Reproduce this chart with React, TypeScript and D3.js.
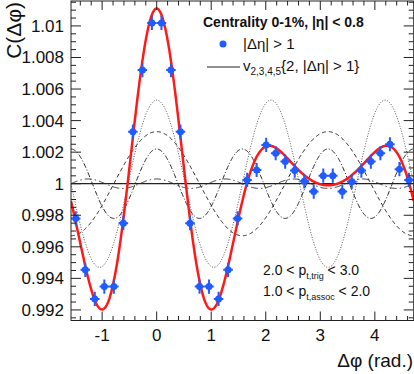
import { useEffect, useRef } from 'react';
import * as d3 from 'd3';

// 36 bins over [-pi/2, 3pi/2]
const nBins = 36;
const corrValues = [
  0.9978, 0.99454, 0.9927, 0.99348, 0.99348, 0.9975, 1.0033, 1.0072, 1.01019,
  1.01019, 1.0072, 1.0033, 0.9975, 0.99348, 0.99348, 0.9927, 0.99454, 0.9978,
  1.00024, 1.00087, 1.00246, 1.00193, 1.0014, 1.00083, 1.00015, 0.9995, 1.00051,
  1.00051, 0.9995, 1.00013, 1.00083, 1.0014, 1.00193, 1.0025, 1.00092, 1.00024,
];
const corrErr = 0.00045;

// Fourier terms 1 + 2 v_n^2 cos(n dphi)
const harmonicOrders = [2, 3, 4, 5];
const harmonicAmps = [0.0033, 0.0053, 0.0022, 0.0003];

const yTicks = [0.992, 0.994, 0.996, 0.998, 1, 1.002, 1.004, 1.006, 1.008, 1.01];
const yTickLabels = ['0.992', '0.994', '0.996', '0.998', '1', '1.002', '1.004', '1.006', '1.008', '1.01'];
const xTicks = [-1, 0, 1, 2, 3, 4];

export default function App() {
  const svgRef = useRef<SVGSVGElement>(null);

  useEffect(() => {
    if (!svgRef.current) return;
    const svg = d3.select(svgRef.current);
    svg.selectAll('*').remove();

    const left = 71;
    const right = 413.7;
    const top = 1;
    const bottom = 320.5;
    const font = "'Liberation Sans', Arial, Helvetica, sans-serif";

    const x = d3.scaleLinear().domain([-Math.PI / 2, (3 * Math.PI) / 2]).range([left, right]);
    const y = d3.scaleLinear().domain([0.99133, 1.01158]).range([bottom, top]);

    svg.append('defs').append('clipPath').attr('id', 'plotclip')
      .append('rect')
      .attr('x', left).attr('y', top)
      .attr('width', right - left).attr('height', bottom - top);

    const plot = svg.append('g').attr('clip-path', 'url(#plotclip)');

    // baseline at 1
    plot.append('line')
      .attr('x1', left).attr('x2', right)
      .attr('y1', y(1)).attr('y2', y(1))
      .attr('stroke', '#222').attr('stroke-width', 1.2);

    const samples = d3.range(0, 601).map((i) => -Math.PI / 2 + (i / 600) * 2 * Math.PI);
    const dashes = ['4,3', '1,1.6', '5,2,1,2', '7,3,1.5,3'];
    const colors = ['#222', '#555', '#222', '#333'];

    harmonicOrders.forEach((n, i) => {
      const line = d3.line<number>()
        .x((p) => x(p))
        .y((p) => y(1 + harmonicAmps[i] * Math.cos(n * p)));
      plot.append('path')
        .datum(samples)
        .attr('d', line)
        .attr('fill', 'none')
        .attr('stroke', colors[i])
        .attr('stroke-width', 1)
        .attr('stroke-dasharray', dashes[i]);
    });

    // sum of harmonics
    const sumLine = d3.line<number>()
      .x((p) => x(p))
      .y((p) => y(1 + d3.sum(harmonicOrders, (n, i) => harmonicAmps[i] * Math.cos(n * p))));
    plot.append('path')
      .datum(samples)
      .attr('d', sumLine)
      .attr('fill', 'none')
      .attr('stroke', '#ff1a1a')
      .attr('stroke-width', 2.5);

    // data points
    const binW = (2 * Math.PI) / nBins;
    const pts = corrValues.map((v, k) => ({ c: -Math.PI / 2 + (k + 0.5) * binW, v }));
    const blue = '#1f5bff';
    const pg = plot.append('g');
    pts.forEach((d) => {
      pg.append('line')
        .attr('x1', x(d.c - binW / 2)).attr('x2', x(d.c + binW / 2))
        .attr('y1', y(d.v)).attr('y2', y(d.v))
        .attr('stroke', blue).attr('stroke-width', 2);
      pg.append('line')
        .attr('x1', x(d.c)).attr('x2', x(d.c))
        .attr('y1', y(d.v - corrErr)).attr('y2', y(d.v + corrErr))
        .attr('stroke', blue).attr('stroke-width', 2);
      pg.append('circle')
        .attr('cx', x(d.c)).attr('cy', y(d.v)).attr('r', 3.5)
        .attr('fill', blue);
    });

    // frame
    svg.append('rect')
      .attr('x', left).attr('y', top)
      .attr('width', right - left).attr('height', bottom - top)
      .attr('fill', 'none').attr('stroke', '#222').attr('stroke-width', 1);

    const ax = svg.append('g').attr('stroke', '#222').attr('stroke-width', 1);
    // x ticks (major every 1, minor every 0.2)
    const xMinor = d3.range(-1.4, 4.8, 0.2).filter((t) => t >= -Math.PI / 2 && t <= 1.5 * Math.PI);
    xMinor.forEach((t) => {
      const isMajor = Math.abs(t - Math.round(t)) < 1e-6;
      const len = isMajor ? 9 : 4.5;
      ax.append('line').attr('x1', x(t)).attr('x2', x(t)).attr('y1', bottom).attr('y2', bottom - len);
      ax.append('line').attr('x1', x(t)).attr('x2', x(t)).attr('y1', top).attr('y2', top + len);
    });
    // y ticks (major every 0.002, minor every 0.0005)
    const yMinor = d3.range(0.9915, 1.0116, 0.0005);
    yMinor.forEach((t) => {
      const isMajor = Math.abs(t / 0.002 - Math.round(t / 0.002)) < 1e-4;
      const len = isMajor ? 10 : 5;
      ax.append('line').attr('x1', left).attr('x2', left + len).attr('y1', y(t)).attr('y2', y(t));
      ax.append('line').attr('x1', right).attr('x2', right - len).attr('y1', y(t)).attr('y2', y(t));
    });

    // tick labels
    svg.append('g').selectAll('text')
      .data(yTicks)
      .join('text')
      .attr('x', 64)
      .attr('y', (d) => y(d) + 6)
      .attr('text-anchor', 'end')
      .attr('font-family', font)
      .attr('font-size', '17px')
      .attr('fill', '#111')
      .text((d, i) => yTickLabels[i]);

    svg.append('g').selectAll('text')
      .data(xTicks)
      .join('text')
      .attr('x', (d) => x(d))
      .attr('y', 341)
      .attr('text-anchor', 'middle')
      .attr('font-family', font)
      .attr('font-size', '17px')
      .attr('fill', '#111')
      .text((d) => (d < 0 ? '-' + Math.abs(d) : String(d)));

    // axis titles
    svg.append('text')
      .attr('transform', 'translate(21,2) rotate(-90)')
      .attr('text-anchor', 'end')
      .attr('font-family', font)
      .attr('font-size', '21px')
      .attr('fill', '#111')
      .text('C(Δφ)');

    svg.append('text')
      .attr('x', 413)
      .attr('y', 367)
      .attr('text-anchor', 'end')
      .attr('font-family', font)
      .attr('font-size', '19px')
      .attr('fill', '#111')
      .text('Δφ (rad.)');

    // legend
    svg.append('text')
      .attr('x', 203).attr('y', 27)
      .attr('font-family', font).attr('font-size', '14px').attr('font-weight', 'bold')
      .attr('fill', '#111')
      .text('Centrality 0-1%, |η| < 0.8');

    svg.append('circle').attr('cx', 223).attr('cy', 44).attr('r', 3.5).attr('fill', blue);
    svg.append('text')
      .attr('x', 243).attr('y', 49)
      .attr('font-family', font).attr('font-size', '15px').attr('fill', '#111')
      .text('|Δη| > 1');

    svg.append('line')
      .attr('x1', 207).attr('x2', 240).attr('y1', 67).attr('y2', 67)
      .attr('stroke', '#222').attr('stroke-width', 1.2);
    const v = svg.append('text')
      .attr('x', 243).attr('y', 71)
      .attr('font-family', font).attr('font-size', '15px').attr('fill', '#111');
    v.append('tspan').text('v');
    v.append('tspan').attr('dy', 4).attr('font-size', '10px').text('2,3,4,5');
    v.append('tspan').attr('dy', -4).text('{2, |Δη| > 1}');

    // kinematic cuts
    const cut1 = svg.append('text')
      .attr('x', 263).attr('y', 275)
      .attr('font-family', font).attr('font-size', '14px').attr('fill', '#111');
    cut1.append('tspan').text('2.0 < p');
    cut1.append('tspan').attr('dy', 4).attr('font-size', '9px').text('t,trig');
    cut1.append('tspan').attr('dy', -4).text(' < 3.0');

    const cut2 = svg.append('text')
      .attr('x', 263).attr('y', 296)
      .attr('font-family', font).attr('font-size', '14px').attr('fill', '#111');
    cut2.append('tspan').text('1.0 < p');
    cut2.append('tspan').attr('dy', 4).attr('font-size', '9px').text('t,assoc');
    cut2.append('tspan').attr('dy', -4).text(' < 2.0');
  }, []);

  return (
    <svg
      ref={svgRef}
      width={414}
      height={374}
      style={{ position: 'absolute', left: 0, top: 0, background: '#fff' }}
    />
  );
}
